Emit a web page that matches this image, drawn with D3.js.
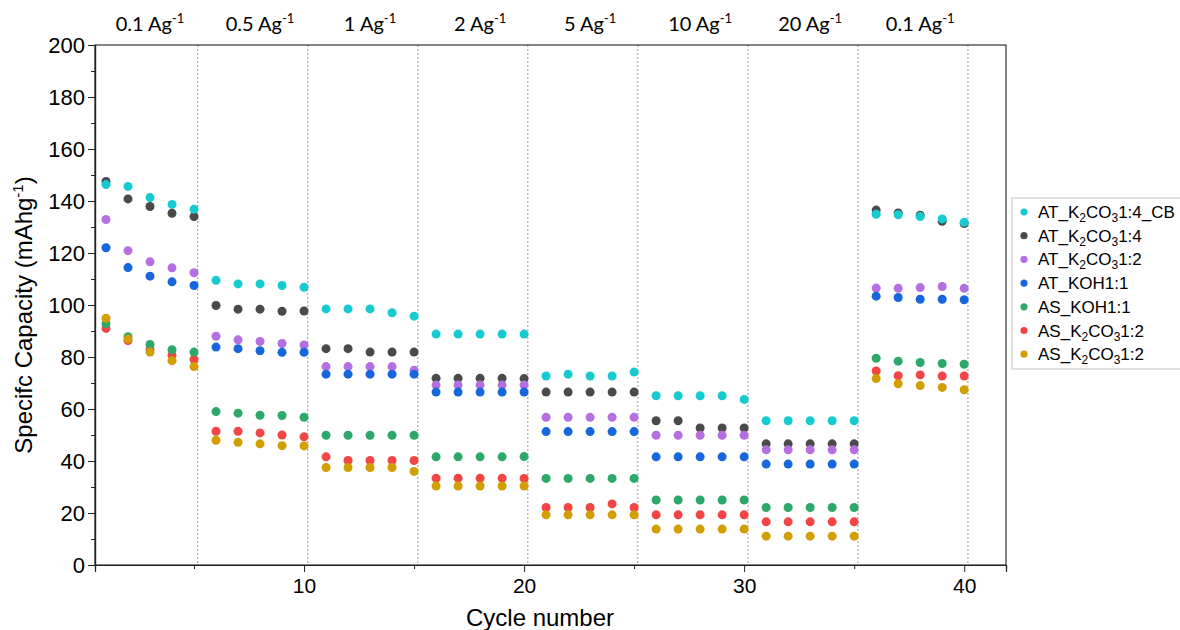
<!DOCTYPE html>
<html>
<head>
<meta charset="utf-8">
<script src="https://cdn.jsdelivr.net/npm/d3@7"></script>
<style>
  body { margin: 0; background: #fff; }
  svg { display: block; }
  .axis text { font-family: "Liberation Sans", Arial, sans-serif; font-size: 21px; fill: #000; }
  .yaxis text { font-size: 22px; }
  .axis path, .axis line { stroke: #222; }
</style>
</head>
<body>
<div id="chart"></div>
<script>
// cycle numbers (x values)
const cycles = [1,2,3,4,5,6,7,8,9,10,11,12,13,14,15,16,17,18,19,20,
                21,22,23,24,25,26,27,28,29,30,31,32,33,34,35,36,37,38,39,40]

// current density of each 5-cycle block
const rateLabels = ["0.1", "0.5", "1", "2", "5", "10", "20", "0.1"]
const rateCenters = [3, 8, 13, 18, 23, 28, 33, 38]
const dividers = [5.17, 10.17, 15.17, 20.17, 25.17, 30.17, 35.17, 40.17]

// specific capacity (mAh/g)
const atK2co3_14cb = [146.3,145.6,141.3,138.7,136.8, 109.5,108.1,108.1,107.5,106.8,
                      98.5,98.5,98.5,97.0,95.7, 88.8,88.8,88.8,88.8,88.8,
                      72.7,73.4,72.7,72.7,74.2, 65.1,65.1,65.1,65.1,63.7,
                      55.5,55.5,55.5,55.5,55.5, 134.9,134.7,134.0,133.1,131.8]
const atK2co3_14 = [147.5,140.8,137.9,135.3,134.0, 99.8,98.4,98.4,97.6,97.7,
                    83.2,83.2,81.9,81.9,81.9, 71.8,71.8,71.8,71.8,71.7,
                    66.5,66.5,66.5,66.5,66.5, 55.5,55.5,52.7,52.7,52.7,
                    46.6,46.6,46.6,46.6,46.6, 136.5,135.4,134.5,132.2,131.3]
const atK2co3_12 = [132.9,120.9,116.6,114.3,112.4, 88.0,86.6,86.0,85.2,84.6,
                    76.3,76.3,76.3,76.3,74.9, 69.2,69.2,69.2,69.2,69.2,
                    56.8,56.8,56.8,56.8,56.8, 49.9,49.9,49.9,49.9,49.9,
                    44.3,44.3,44.3,44.3,44.3, 106.5,106.4,106.7,107.1,106.4]
const atKoh11 = [122.0,114.4,111.1,108.9,107.5, 83.8,83.2,82.4,81.8,81.8,
                 73.4,73.4,73.4,73.4,73.4, 66.5,66.5,66.5,66.5,66.5,
                 51.3,51.3,51.3,51.3,51.3, 41.6,41.6,41.6,41.6,41.6,
                 38.8,38.8,38.8,38.8,38.8, 103.4,102.9,102.2,102.2,102.0]
const asKoh11 = [92.8,87.8,84.8,82.8,81.9, 59.0,58.4,57.6,57.5,56.8,
                 49.9,49.9,49.9,49.9,49.9, 41.6,41.6,41.6,41.6,41.7,
                 33.3,33.3,33.3,33.3,33.3, 25.0,25.0,25.0,25.0,25.0,
                 22.1,22.1,22.1,22.1,22.1, 79.5,78.4,77.9,77.5,77.2]
const asK2co3_12 = [91.0,86.3,82.9,80.7,79.1, 51.4,51.4,50.8,50.0,49.3,
                    41.6,40.2,40.2,40.2,40.2, 33.4,33.4,33.4,33.4,33.3,
                    22.1,22.1,22.1,23.5,22.1, 19.3,19.3,19.3,19.3,19.3,
                    16.6,16.6,16.6,16.6,16.6, 74.6,72.8,73.1,72.7,72.7]
const asK2co3_12b = [94.9,86.9,81.9,78.6,76.3, 48.0,47.2,46.6,45.9,45.8,
                     37.5,37.5,37.5,37.5,36.0, 30.4,30.4,30.4,30.4,30.4,
                     19.3,19.3,19.3,19.3,19.3, 13.8,13.8,13.8,13.8,13.8,
                     11.1,11.1,11.1,11.1,11.1, 71.7,69.7,69.0,68.3,67.4]

// legend names, {n} = subscript
const seriesNames = ["AT_K{2}CO{3}1:4_CB", "AT_K{2}CO{3}1:4", "AT_K{2}CO{3}1:2",
                     "AT_KOH1:1", "AS_KOH1:1", "AS_K{2}CO{3}1:2", "AS_K{2}CO{3}1:2"]
const seriesValues = [atK2co3_14cb, atK2co3_14, atK2co3_12, atKoh11, asKoh11, asK2co3_12, asK2co3_12b]
const seriesColors = ["#15cbd0", "#4a4a4a", "#b46fe0", "#1766dc", "#2ea86a", "#f24545", "#d29e00"]
// drawing order (later = on top)
const drawOrder = [1, 2, 3, 5, 4, 6, 0]

const W = 1180, H = 630
const m = {l: 95, r: 1006, t: 45, b: 565}

const svg = d3.select("#chart").append("svg")
    .attr("width", W).attr("height", H)

const x = d3.scaleLinear().domain([0.5, 41.9]).range([m.l, m.r])
const y = d3.scaleLinear().domain([0, 200]).range([m.b, m.t])

// dotted separators between current densities
svg.append("g").selectAll("line").data(dividers).enter().append("line")
    .attr("x1", d => x(d)).attr("x2", d => x(d))
    .attr("y1", m.t).attr("y2", m.b)
    .attr("stroke", "#9a9a9a").attr("stroke-width", 1)
    .attr("stroke-dasharray", "2,2")

// frame (top/right)
svg.append("rect")
    .attr("x", m.l).attr("y", m.t)
    .attr("width", m.r - m.l).attr("height", m.b - m.t)
    .attr("fill", "none").attr("stroke", "#333").attr("stroke-width", 1.2)

// y axis, major + minor ticks
svg.append("g").attr("class", "axis yaxis")
    .attr("transform", "translate(" + m.l + ",0)")
    .call(d3.axisLeft(y).tickValues(d3.range(0, 201, 20)).tickSize(7).tickPadding(3))
svg.append("g").attr("class", "axis")
    .attr("transform", "translate(" + m.l + ",0)")
    .call(d3.axisLeft(y).tickValues(d3.range(10, 200, 20)).tickSize(4).tickFormat(""))

// x axis
svg.append("g").attr("class", "axis")
    .attr("transform", "translate(0," + m.b + ")")
    .call(d3.axisBottom(x).tickValues([10, 20, 30, 40]).tickSize(7).tickPadding(6))
svg.append("g").attr("class", "axis")
    .attr("transform", "translate(0," + m.b + ")")
    .call(d3.axisBottom(x).tickValues([5, 15, 25, 35]).tickSize(4).tickFormat(""))

svg.selectAll(".axis path").attr("stroke-width", 1.2)

// axis titles
svg.append("text")
    .attr("x", 540).attr("y", 626)
    .attr("text-anchor", "middle")
    .style("font-family", "Liberation Sans, Arial, sans-serif").style("font-size", "24px")
    .text("Cycle number")

const yt = svg.append("text")
    .attr("transform", "translate(32,315) rotate(-90)")
    .attr("text-anchor", "middle")
    .style("font-family", "Liberation Sans, Arial, sans-serif").style("font-size", "24px")
yt.append("tspan").text("Specifc Capacity (mAhg")
yt.append("tspan").attr("dy", -9).style("font-size", "15px").text("-1")
yt.append("tspan").attr("dy", 9).text(")")

// current density labels above the plot
const rl = svg.append("g").selectAll("text").data(rateLabels).enter().append("text")
    .attr("x", (d, i) => x(rateCenters[i]))
    .attr("y", 31)
    .attr("text-anchor", "middle")
    .style("font-family", "Lato, sans-serif").style("font-size", "20px")
rl.append("tspan").text(d => d + " Ag")
rl.append("tspan").attr("dy", -8).style("font-size", "13px").text("-1")

// points
const pts = svg.append("g")
drawOrder.forEach(function(s) {
    pts.append("g").selectAll("circle").data(seriesValues[s]).enter().append("circle")
        .attr("cx", (d, i) => x(cycles[i]))
        .attr("cy", d => y(d))
        .attr("r", 4.5)
        .attr("fill", seriesColors[s])
})

// legend
const lg = svg.append("g")
lg.append("rect")
    .attr("x", 1012).attr("y", 198).attr("width", 185).attr("height", 171)
    .attr("fill", "#fff").attr("stroke", "#c4c4c4").attr("stroke-width", 1)

const rows = lg.selectAll("g.row").data(seriesNames).enter().append("g")
    .attr("class", "row")
    .attr("transform", (d, i) => "translate(0," + (212 + i * 23.7) + ")")
rows.append("circle").attr("cx", 1024).attr("cy", 0).attr("r", 3.6)
    .attr("fill", (d, i) => seriesColors[i])
rows.append("text")
    .attr("x", 1038).attr("y", 6)
    .style("font-family", "Liberation Sans, Arial, sans-serif").style("font-size", "17px")
    .each(function(d) {
        // split "K{2}CO{3}" into normal text and subscripts
        const t = d3.select(this)
        const parts = d.split(/(\{\d\})/).filter(p => p.length)
        let sub = false
        parts.forEach(function(p) {
            if (p[0] === "{") {
                t.append("tspan").attr("dy", 4).style("font-size", "12px").text(p.slice(1, -1))
                sub = true
            } else {
                t.append("tspan").attr("dy", sub ? -4 : 0).text(p)
                sub = false
            }
        })
    })
</script>
</body>
</html>
